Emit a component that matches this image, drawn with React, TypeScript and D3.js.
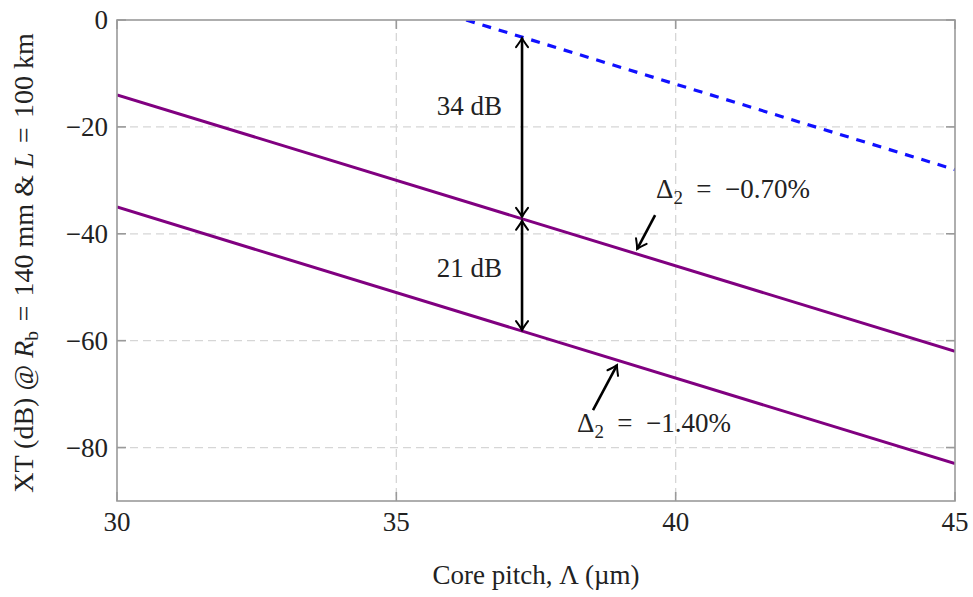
import React from "react";
import * as d3 from "d3";

// Core pitch (µm) at the two ends of each straight XT curve
const pitch = [30, 45];
// XT (dB) for Δ2 = −0.70 %
const xtHigh = [-14, -62];
// XT (dB) for Δ2 = −1.40 %
const xtLow = [-35, -83];
// Reference curve (blue, dashed)
const refPitch = [36.25, 45];
const refXT = [0, -28];

const xTicks = [30, 35, 40, 45];
const yTicks = [0, -20, -40, -60, -80];

// Gap annotations
const gapPitch = 37.25;
const gapTop = 34; // dB between reference and Δ2 = −0.70 %
const gapBottom = 21; // dB between Δ2 = −0.70 % and Δ2 = −1.40 %

const W = 973;
const H = 597;
const M = { left: 117, right: 955, top: 20, bottom: 501 };
const FONT = "'Liberation Serif', 'Times New Roman', serif";
const FS = 27;

const x = d3.scaleLinear().domain([30, 45]).range([M.left, M.right]);
const y = d3.scaleLinear().domain([-90, 0]).range([M.bottom, M.top]);

const line = d3
  .line<[number, number]>()
  .x((d) => x(d[0]))
  .y((d) => y(d[1]));

const zip = (a: number[], b: number[]) => a.map((v, i) => [v, b[i]] as [number, number]);

// value of a straight series at a given pitch
const at = (xs: number[], ys: number[], p: number) =>
  d3.scaleLinear().domain(xs).range(ys)(p);

// pgf-like "->" arrow tip at (tx, ty) pointing along angle (radians)
function Tip({ tx, ty, angle }: { tx: number; ty: number; angle: number }) {
  const deg = (angle * 180) / Math.PI;
  return (
    <path
      d="M -9,-6 Q -3,-1.5 0,0 Q -3,1.5 -9,6"
      transform={`translate(${tx},${ty}) rotate(${deg})`}
      fill="none"
      stroke="#000"
      strokeWidth={2}
      strokeLinecap="round"
    />
  );
}

function Arrow({
  x1,
  y1,
  x2,
  y2,
  both = false,
}: {
  x1: number;
  y1: number;
  x2: number;
  y2: number;
  both?: boolean;
}) {
  const a = Math.atan2(y2 - y1, x2 - x1);
  return (
    <g>
      <line x1={x1} y1={y1} x2={x2} y2={y2} stroke="#000" strokeWidth={2.6} />
      <Tip tx={x2} ty={y2} angle={a} />
      {both && <Tip tx={x1} ty={y1} angle={a + Math.PI} />}
    </g>
  );
}

export default function App() {
  const gx = x(gapPitch);
  const vHigh = at(pitch, xtHigh, gapPitch);
  const vRef = vHigh + gapTop;
  const vLow = vHigh - gapBottom;

  // label arrows pointing at each curve
  const pHigh = 39.31;
  const tipHigh = { x: x(pHigh), y: y(at(pitch, xtHigh, pHigh)) - 5 };
  const pLow = 38.95;
  const tipLow = { x: x(pLow), y: y(at(pitch, xtLow, pLow)) + 5 };

  const tickLen = 9;
  const frame = "#9a9a9a";

  return (
    <svg
      width={W}
      height={H}
      style={{ position: "absolute", left: 0, top: 0, background: "#fff" }}
      fontFamily={FONT}
    >
      <defs>
        <clipPath id="plot">
          <rect x={M.left} y={M.top} width={M.right - M.left} height={M.bottom - M.top} />
        </clipPath>
      </defs>

      {/* grid */}
      <g stroke="#d6d6d6" strokeWidth={1.3} strokeDasharray="8 5">
        {xTicks.slice(1, -1).map((t) => (
          <line key={`gx${t}`} x1={x(t)} x2={x(t)} y1={M.top} y2={M.bottom} />
        ))}
        {yTicks.slice(1).map((t) => (
          <line key={`gy${t}`} x1={M.left} x2={M.right} y1={y(t)} y2={y(t)} />
        ))}
      </g>

      {/* curves */}
      <g clipPath="url(#plot)" fill="none">
        <path d={line(zip(pitch, xtHigh)) || ""} stroke="#800080" strokeWidth={3} />
        <path d={line(zip(pitch, xtLow)) || ""} stroke="#800080" strokeWidth={3} />
        <path
          d={line(zip(refPitch, refXT)) || ""}
          stroke="#1010ff"
          strokeWidth={3.2}
          strokeDasharray="9 8"
        />
      </g>

      {/* frame and inward ticks */}
      <g stroke={frame} strokeWidth={1.6} fill="none">
        <rect x={M.left} y={M.top} width={M.right - M.left} height={M.bottom - M.top} />
        {xTicks.map((t) => (
          <g key={`tx${t}`}>
            <line x1={x(t)} x2={x(t)} y1={M.bottom} y2={M.bottom - tickLen} />
            <line x1={x(t)} x2={x(t)} y1={M.top} y2={M.top + tickLen} />
          </g>
        ))}
        {yTicks.map((t) => (
          <g key={`ty${t}`}>
            <line x1={M.left} x2={M.left + tickLen} y1={y(t)} y2={y(t)} />
            <line x1={M.right} x2={M.right - tickLen} y1={y(t)} y2={y(t)} />
          </g>
        ))}
      </g>

      {/* tick labels */}
      <g fontSize={FS} fill="#222">
        {xTicks.map((t) => (
          <text key={`lx${t}`} x={x(t)} y={M.bottom + 30} textAnchor="middle">
            {t}
          </text>
        ))}
        {yTicks.map((t) => (
          <text key={`ly${t}`} x={M.left - 9} y={y(t)} dy="0.34em" textAnchor="end">
            {t < 0 ? `\u2212${-t}` : t}
          </text>
        ))}
      </g>

      {/* axis titles */}
      <text x={(M.left + M.right) / 2} y={584} fontSize={FS} textAnchor="middle" fill="#222">
        Core pitch, Λ (µm)
      </text>
      <text
        transform={`translate(33,263) rotate(-90)`}
        fontSize={28}
        textAnchor="middle"
        fill="#222"
      >
        XT (dB) @ <tspan fontStyle="italic">R</tspan>
        <tspan fontSize={28 * 0.7} dy={5}>
          b
        </tspan>
        <tspan dy={-5}>{"\u2004=\u2004140 mm & "}</tspan>
        <tspan fontStyle="italic">L</tspan>
        <tspan>{"\u2004=\u2004100 km"}</tspan>
      </text>

      {/* gap arrows */}
      <Arrow x1={gx} y1={y(vHigh) - 2} x2={gx} y2={y(vRef) + 1} both />
      <Arrow x1={gx} y1={y(vHigh) + 2} x2={gx} y2={y(vLow) - 1} both />
      <text x={gx - 20} y={115} fontSize={FS} textAnchor="end" fill="#222">
        {gapTop} dB
      </text>
      <text x={gx - 20} y={277} fontSize={FS} textAnchor="end" fill="#222">
        {gapBottom} dB
      </text>

      {/* curve labels */}
      <Arrow x1={tipHigh.x + 18} y1={tipHigh.y - 34} x2={tipHigh.x} y2={tipHigh.y} />
      <text x={656} y={198} fontSize={FS} fill="#222">
        Δ<tspan fontSize={FS * 0.7} dy={6}>2</tspan>
        <tspan dy={-6}>{"\u2002=\u2002−0.70%"}</tspan>
      </text>
      <Arrow x1={tipLow.x - 24} y1={tipLow.y + 45} x2={tipLow.x} y2={tipLow.y} />
      <text x={577} y={432} fontSize={FS} fill="#222">
        Δ<tspan fontSize={FS * 0.7} dy={6}>2</tspan>
        <tspan dy={-6}>{"\u2002=\u2002−1.40%"}</tspan>
      </text>
    </svg>
  );
}
